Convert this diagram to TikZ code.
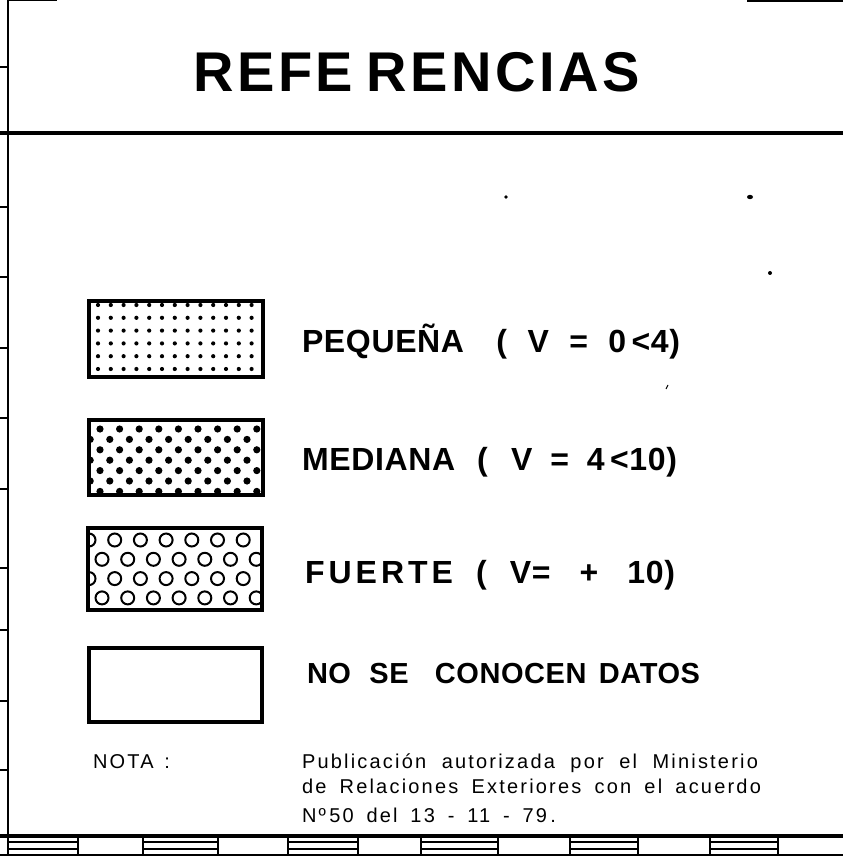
\documentclass[tikz,border=0pt]{standalone}
\usepackage{fontspec}
\setmainfont{Liberation Sans}
\newfontfamily\titlefont[LetterSpace=6.5]{Liberation Sans}
\newfontfamily\rowfont[LetterSpace=2]{Liberation Sans}
\newfontfamily\notefont[LetterSpace=11]{Liberation Sans}
\newcommand\fitto[2]{\makebox[#1][s]{#2}}
\tikzset{
  legbox/.style={draw=black, line width=3.4pt, minimum width=174pt, inner sep=0pt, outer sep=0pt},
  frameline/.style={line width=2.2pt},
  tickline/.style={line width=1.6pt},
  lbl/.style={anchor=base west, inner sep=0pt, outer sep=0pt},
  rowtext/.style={lbl, font=\rowfont\bfseries\fontsize{32}{38}\selectfont},
  notetext/.style={lbl, font=\notefont\fontsize{20}{24}\selectfont},
}
\begin{document}
\begin{tikzpicture}[x=1pt, y=-1pt]
\useasboundingbox (0,0) rectangle (843,858);
\fill[white] (0,0) rectangle (843,858);

% frame
\draw[frameline] (8,0) -- (8,856);
\draw[line width=3.2pt] (0,133) -- (843,133);
\draw[line width=2pt] (747,1) -- (843,1);
\draw[line width=1pt] (8,0.6) -- (57,0.6);
\foreach \yy in {67,207,277,348,418,489,568,630,701,770}
  \draw[tickline] (0,\yy) -- (8,\yy);

% bottom scale strip
\draw[line width=3.6pt] (0,836) -- (843,836);
\draw[line width=1.5pt] (0,855) -- (843,855);
\foreach \xx in {8,78,143,218,288,358,421,498,570,638,710,778}
  \draw[line width=1.5pt] (\xx,836) -- (\xx,855);
\foreach \a/\b in {8/78,143/218,288/358,421/498,570/638,710/778}{
  \draw[line width=1.8pt] (\a,842) -- (\b,842);
  \draw[line width=1.5pt] (\a,849) -- (\b,849);
}

% title
\node[lbl, font=\titlefont\bfseries\fontsize{56}{60}\selectfont] (title) at (193,92)
  {\fitto{447pt}{REFE\hfil RENCIAS}};

% box 1: small dots
\node[legbox, minimum height=76pt] (b1) at (176,339) {};
\begin{scope}
  \clip (b1.south west) rectangle (b1.north east);
  \foreach \i in {0,...,12}
    \foreach \j in {0,...,5}
      \fill (98+12.8*\i, 305+12.8*\j) circle (2.1pt);
\end{scope}
\node[legbox, minimum height=76pt] at (b1.center) {};

% box 2: medium dots, staggered
\node[legbox, minimum height=75pt] (b2) at (176,457.5) {};
\begin{scope}
  \clip (b2.south west) rectangle (b2.north east);
  \foreach \j in {0,...,6}{
    \pgfmathsetmacro{\off}{mod(\j,2)*9.8}
    \foreach \i in {-1,...,8}
      \fill (100+19.6*\i+\off, 429+10.4*\j) circle (3.6pt);
  }
\end{scope}
\node[legbox, minimum height=75pt] at (b2.center) {};

% box 3: open circles
\node[legbox, minimum height=82pt] (b3) at (175,569) {};
\begin{scope}
  \clip (b3.south west) rectangle (b3.north east);
  \foreach \j in {0,...,3}{
    \pgfmathsetmacro{\off}{mod(\j,2)*13}
    \foreach \i in {0,...,7}
      \draw[line width=2pt] (89+25.7*\i+\off, 540+19.3*\j) circle (6.5pt);
  }
\end{scope}
\node[legbox, minimum height=82pt] at (b3.center) {};

% box 4: empty
\node[legbox, minimum width=173pt, minimum height=74pt] (b4) at (175.5,685) {};

% legend labels
\node[rowtext] (t1) at (302,352) {\fitto{378pt}{PEQUEÑA\hspace{12pt} ( V = 0\,<4)}};
\node[rowtext] (t2) at (302,470) {\fitto{375pt}{MEDIANA\hspace{4pt} ( \,V = 4\,<10)}};
\node[rowtext] (t3) at (305,583) {\fitto{370pt}{F\kern4pt U\kern4pt E\kern4pt R\kern4pt T\kern4pt E ( V=\hspace{6pt} + \hspace{6pt}10)}};
\node[rowtext, font=\rowfont\bfseries\fontsize{29}{34}\selectfont] (t4) at (307,683)
  {\fitto{393pt}{NO\hspace{6pt} SE\hspace{14pt} CONOCEN DATOS}};

% note
\node[notetext] (nota) at (93,768) {\fitto{77pt}{NOTA\hspace{2pt} :}};
\node[notetext] (n1) at (302,768) {\fitto{456pt}{Publicación autorizada por el Ministerio}};
\node[notetext] (n2) at (302,793) {\fitto{459pt}{de Relaciones Exteriores con el acuerdo}};
\node[notetext] (n3) at (302,822) {\fitto{254pt}{Nº\,50 del 13 - 11 - 79\,.}};

% scan specks
\fill (506,197) circle (1.8pt);
\fill (750,197) ellipse (3pt and 2.2pt);
\fill (770,273) circle (2pt);
\draw[line width=1pt] (666,389) -- (668,385);
\end{tikzpicture}
\end{document}
